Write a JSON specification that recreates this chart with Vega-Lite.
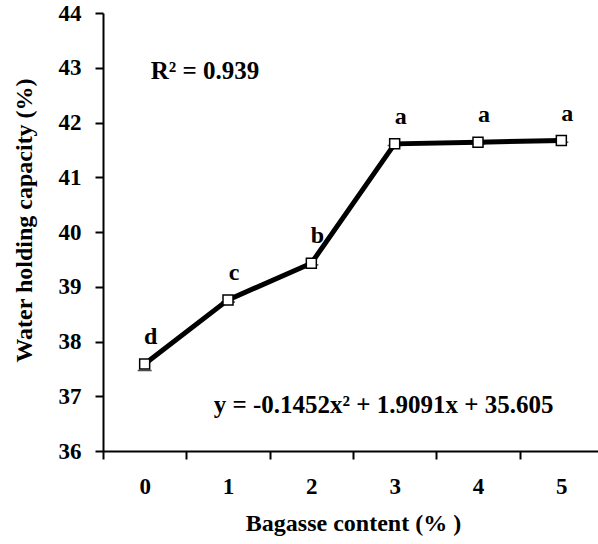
{
  "$schema": "https://vega.github.io/schema/vega-lite/v6.json",
  "autosize": {"type": "none"},
  "padding": {"left": 103, "top": 13, "right": 0, "bottom": 93},
  "width": 495,
  "height": 438,
  "background": "white",
  "config": {
    "view": {"stroke": null},
    "font": "Liberation Serif",
    "axis": {
      "labelFont": "Liberation Serif",
      "titleFont": "Liberation Serif",
      "labelFontWeight": "bold",
      "titleFontWeight": "bold",
      "labelFontSize": 23,
      "titleFontSize": 24,
      "labelColor": "black",
      "titleColor": "black",
      "domainColor": "black",
      "tickColor": "black",
      "domainWidth": 2,
      "tickWidth": 2,
      "tickSize": 8,
      "grid": false
    }
  },
  "datasets": {
    "wh": [
      {"bagasse": "0", "whc": 37.59, "err_lo": 37.47, "sig": "d"},
      {"bagasse": "1", "whc": 38.76, "err_lo": 38.72, "sig": "c"},
      {"bagasse": "2", "whc": 39.43, "err_lo": 39.40, "sig": "b"},
      {"bagasse": "3", "whc": 41.61, "err_lo": 41.58, "sig": "a"},
      {"bagasse": "4", "whc": 41.64, "err_lo": 41.61, "sig": "a"},
      {"bagasse": "5", "whc": 41.67, "err_lo": 41.64, "sig": "a"}
    ],
    "notes": [
      {"bagasse": "0", "y": 42.94, "label": "R² = 0.939", "kind": "r2"},
      {"bagasse": "3", "y": 36.84, "label": "y = -0.1452x² + 1.9091x + 35.605", "kind": "eq"}
    ]
  },
  "encoding": {
    "x": {
      "field": "bagasse",
      "type": "ordinal",
      "sort": ["0", "1", "2", "3", "4", "5"],
      "scale": {"type": "band", "paddingInner": 0, "paddingOuter": 0, "range": [0, 500]},
      "axis": {
        "title": "Bagasse content (% )",
        "labelAngle": 0,
        "tickBand": "extent",
        "labelPadding": 16,
        "titleY": 79,
        "titleBaseline": "alphabetic"
      }
    }
  },
  "layer": [
    {
      "data": {"name": "wh"},
      "mark": {"type": "tick", "color": "black", "thickness": 1.5, "size": 14, "orient": "horizontal"},
      "encoding": {
        "y": {"field": "err_lo", "type": "quantitative"}
      }
    },
    {
      "data": {"name": "wh"},
      "mark": {"type": "line", "color": "black", "strokeWidth": 5},
      "encoding": {
        "y": {
          "field": "whc",
          "type": "quantitative",
          "scale": {"domain": [36, 44], "nice": false, "zero": false},
          "axis": {
            "title": "Water holding capacity (%)",
            "values": [36, 37, 38, 39, 40, 41, 42, 43, 44],
            "labelPadding": 14,
            "titleAngle": -90,
            "titleX": -79,
            "titleY": 207,
            "titleAlign": "center",
            "titleBaseline": "middle"
          }
        }
      }
    },
    {
      "data": {"name": "wh"},
      "mark": {"type": "point", "shape": "square", "filled": true, "fill": "white", "stroke": "black", "strokeWidth": 1.5, "size": 100, "opacity": 1},
      "encoding": {
        "y": {"field": "whc", "type": "quantitative"}
      }
    },
    {
      "data": {"name": "wh"},
      "mark": {"type": "text", "font": "Liberation Serif", "fontWeight": "bold", "fontSize": 24, "color": "black", "dy": -27, "dx": 6, "baseline": "middle"},
      "encoding": {
        "y": {"field": "whc", "type": "quantitative"},
        "text": {"field": "sig"}
      }
    },
    {
      "data": {"name": "notes"},
      "transform": [{"filter": "datum.kind == 'r2'"}],
      "mark": {"type": "text", "font": "Liberation Serif", "fontWeight": "bold", "fontSize": 25, "color": "black", "align": "left", "baseline": "middle", "dx": 6},
      "encoding": {
        "y": {"field": "y", "type": "quantitative"},
        "text": {"field": "label"}
      }
    },
    {
      "data": {"name": "notes"},
      "transform": [{"filter": "datum.kind == 'eq'"}],
      "mark": {"type": "text", "font": "Liberation Serif", "fontWeight": "bold", "fontSize": 25, "color": "black", "align": "center", "baseline": "middle", "dx": -11},
      "encoding": {
        "y": {"field": "y", "type": "quantitative"},
        "text": {"field": "label"}
      }
    }
  ]
}
